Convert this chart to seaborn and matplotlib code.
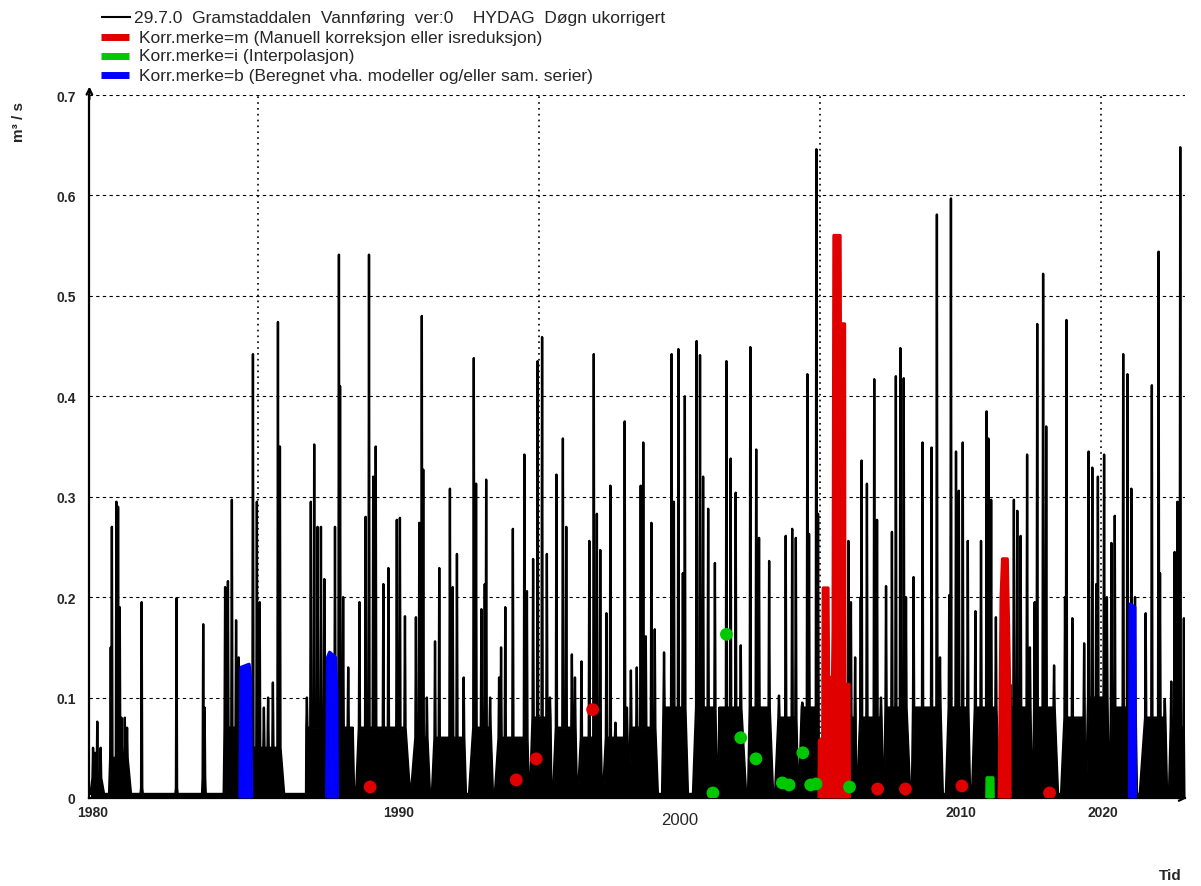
import numpy as np
import pandas as pd
import matplotlib
matplotlib.use('Agg')
import matplotlib.pyplot as plt
import seaborn as sns
from matplotlib.lines import Line2D

# Vannføring, døgnverdier lest av figuren (tid i desimalår, m3/s)
WINTER_Q = 0.004
NEEDLE = 0.02

SEASON_START = [1979.04, 1979.70, 1980.82, 1982.06, 1983.01, 1983.78, 1984.77, 1986.71, 1987.72,
                1988.49, 1990.44, 1991.19, 1992.51, 1993.43, 1994.68, 1995.50, 1996.39, 1997.28,
                1998.20, 1999.38, 2000.48, 2001.37, 2002.44, 2003.40, 2004.25, 2005.98, 2006.32,
                2007.28, 2008.27, 2009.48, 2010.41, 2011.38, 2012.58, 2013.58, 2014.47, 2015.32,
                2016.38, 2017.42]
SEASON_END = [1979.52, 1980.48, 1980.90, 1982.14, 1983.14, 1984.36, 1985.93, 1987.44, 1988.42,
              1990.41, 1991.12, 1992.40, 1993.36, 1994.64, 1995.44, 1996.35, 1997.24, 1998.17,
              1999.23, 2000.30, 2001.33, 2002.37, 2003.33, 2004.22, 2004.96, 2006.28, 2007.24,
              2008.21, 2009.37, 2010.34, 2011.37, 2012.54, 2013.47, 2014.43, 2015.28, 2016.28,
              2017.35, 2017.99]
SEASON_BODY = [0.02, 0.04, 0.01, 0.01, 0.02, 0.07, 0.05, 0.07, 0.07,
               0.07, 0.06, 0.06, 0.07, 0.06, 0.08, 0.07, 0.06, 0.06,
               0.07, 0.09, 0.09, 0.09, 0.09, 0.08, 0.09, 0.08, 0.08,
               0.09, 0.09, 0.09, 0.09, 0.09, 0.09, 0.08, 0.10, 0.09,
               0.08, 0.07]

PEAK_T = [
    1979.13, 1979.20, 1979.28, 1979.40,
    1979.76, 1979.80, 1979.96, 1980.02, 1980.08, 1980.14, 1980.26, 1980.34,
    1980.86,
    1982.10,
    1983.05, 1983.10,
    1983.83, 1983.93, 1984.07, 1984.22, 1984.31,
    1984.82, 1984.96, 1985.06, 1985.21, 1985.36, 1985.53, 1985.71, 1985.78,
    1986.74, 1986.88, 1987.00, 1987.12, 1987.24, 1987.36,
    1987.74, 1987.88, 1987.92, 1988.03, 1988.21, 1988.35,
    1988.61, 1988.83, 1988.95, 1989.10, 1989.19, 1989.46, 1989.64, 1989.94, 1990.05, 1990.23,
    1990.62, 1990.74, 1990.83, 1990.88, 1991.01,
    1991.30, 1991.45, 1991.83, 1991.93, 1992.08, 1992.32,
    1992.68, 1992.76, 1992.95, 1993.07, 1993.12, 1993.26,
    1993.58, 1993.65, 1993.80, 1994.07, 1994.48, 1994.57,
    1994.79, 1994.95, 1995.11, 1995.28, 1995.39,
    1995.62, 1995.85, 1995.97, 1996.17, 1996.28,
    1996.51, 1996.79, 1996.95, 1997.06, 1997.18,
    1997.40, 1997.54, 1997.72, 1998.05, 1998.13,
    1998.27, 1998.48, 1998.62, 1998.71, 1998.80, 1999.00, 1999.12,
    1999.45, 1999.72, 1999.80, 1999.96, 2000.12, 2000.19,
    2000.61, 2000.73, 2000.84, 2001.02, 2001.26,
    2001.44, 2001.67, 2001.82, 2002.00, 2002.18,
    2002.52, 2002.73, 2002.83, 2003.19,
    2003.54, 2003.78, 2004.01, 2004.14,
    2004.37, 2004.55, 2004.61, 2004.87, 2004.93,
    2006.01, 2006.10, 2006.25,
    2006.45, 2006.48, 2006.67, 2006.93, 2007.03, 2007.17,
    2007.35, 2007.56, 2007.70, 2007.86, 2007.98, 2008.06,
    2008.33, 2008.65, 2008.97, 2009.16, 2009.27,
    2009.60, 2009.66, 2009.84, 2009.94, 2010.08, 2010.26,
    2010.53, 2010.73, 2010.93, 2010.99, 2011.09, 2011.26,
    2011.77, 2011.90, 2012.02, 2012.14, 2012.37, 2012.47,
    2012.64, 2012.73, 2012.94, 2013.05, 2013.33,
    2013.72, 2013.77, 2013.98, 2014.40,
    2014.56, 2014.69, 2014.83, 2014.89, 2015.11, 2015.21,
    2015.37, 2015.49, 2015.79, 2015.94, 2016.08, 2016.21,
    2016.59, 2016.81, 2017.05, 2017.10, 2017.27,
    2017.50, 2017.62, 2017.72, 2017.82, 2017.95,
]
PEAK_Q = [
    0.05, 0.045, 0.076, 0.05,
    0.15, 0.27, 0.295, 0.29, 0.19, 0.08, 0.08, 0.07,
    0.195,
    0.199,
    0.173, 0.09,
    0.21, 0.216, 0.297, 0.177, 0.14,
    0.442, 0.295, 0.195, 0.09, 0.10, 0.115, 0.474, 0.35,
    0.10, 0.295, 0.352, 0.27, 0.27, 0.218,
    0.27, 0.541, 0.41, 0.20, 0.13, 0.05,
    0.195, 0.28, 0.541, 0.32, 0.35, 0.213, 0.229, 0.277, 0.279, 0.181,
    0.18, 0.274, 0.48, 0.327, 0.10,
    0.156, 0.229, 0.308, 0.21, 0.243, 0.12,
    0.438, 0.313, 0.188, 0.213, 0.317, 0.10,
    0.12, 0.15, 0.19, 0.268, 0.342, 0.206,
    0.238, 0.435, 0.459, 0.243, 0.10,
    0.322, 0.358, 0.27, 0.143, 0.12,
    0.136, 0.256, 0.442, 0.283, 0.247,
    0.184, 0.311, 0.075, 0.375, 0.09,
    0.127, 0.13, 0.311, 0.354, 0.161, 0.274, 0.168,
    0.145, 0.442, 0.295, 0.447, 0.224, 0.40,
    0.455, 0.441, 0.32, 0.288, 0.234,
    0.066, 0.435, 0.338, 0.304, 0.152,
    0.449, 0.347, 0.259, 0.236,
    0.102, 0.261, 0.268, 0.259,
    0.095, 0.422, 0.263, 0.646, 0.283,
    0.256, 0.195, 0.14,
    0.20, 0.336, 0.313, 0.417, 0.277, 0.10,
    0.211, 0.265, 0.42, 0.448, 0.418, 0.20,
    0.22, 0.354, 0.349, 0.581, 0.14,
    0.202, 0.597, 0.345, 0.306, 0.354, 0.256,
    0.186, 0.256, 0.385, 0.358, 0.297, 0.18,
    0.113, 0.297, 0.286, 0.261, 0.342, 0.15,
    0.195, 0.472, 0.522, 0.37, 0.132,
    0.20, 0.476, 0.179, 0.154,
    0.345, 0.329, 0.213, 0.32, 0.342, 0.20,
    0.254, 0.281, 0.442, 0.422, 0.308, 0.20,
    0.184, 0.411, 0.544, 0.224, 0.098,
    0.116, 0.245, 0.295, 0.648, 0.179,
]

# korrigerte perioder
RED_T1 = [2004.97, 2004.98, 2005.10, 2005.12, 2005.28, 2005.30, 2005.45, 2005.47,
          2005.50, 2005.71, 2005.72, 2005.87, 2005.88, 2006.03, 2006.04]
RED_Q1 = [0.0, 0.057, 0.06, 0.209, 0.209, 0.12, 0.12, 0.166,
          0.56, 0.56, 0.472, 0.472, 0.113, 0.113, 0.0]
RED_T2 = [2011.38, 2011.40, 2011.45, 2011.50, 2011.66, 2011.72, 2011.75, 2011.76]
RED_Q2 = [0.0, 0.05, 0.20, 0.238, 0.238, 0.15, 0.10, 0.0]
BLUE_T1 = [1984.36, 1984.40, 1984.68, 1984.73, 1984.77]
BLUE_Q1 = [0.0, 0.13, 0.133, 0.12, 0.0]
BLUE_T2 = [1987.45, 1987.48, 1987.55, 1987.75, 1987.80, 1987.82]
BLUE_Q2 = [0.0, 0.14, 0.145, 0.14, 0.10, 0.0]
BLUE_T3 = [2016.02, 2016.04, 2016.20, 2016.22]
BLUE_Q3 = [0.0, 0.193, 0.19, 0.0]
GREEN_T1 = [2010.94, 2010.95, 2011.15, 2011.16]
GREEN_Q1 = [0.0, 0.02, 0.02, 0.0]

RED_DOT_T = [1988.99, 1994.19, 1994.90, 1996.91, 2007.05, 2008.04, 2010.05, 2013.17]
RED_DOT_Q = [0.011, 0.018, 0.039, 0.088, 0.009, 0.009, 0.012, 0.005]
GREEN_DOT_T = [2001.19, 2001.67, 2002.18, 2002.72, 2003.66, 2003.90, 2004.39, 2004.67, 2004.86, 2006.05]
GREEN_DOT_Q = [0.005, 0.163, 0.06, 0.039, 0.015, 0.013, 0.045, 0.013, 0.014, 0.011]

Y_TICKS = [0.0, 0.1, 0.2, 0.3, 0.4, 0.5, 0.6, 0.7]
Y_TICK_LABELS = ['0', '0.1', '0.2', '0.3', '0.4', '0.5', '0.6', '0.7']
X_MAJOR = [1985, 1995, 2005, 2015]
X_LABEL_POS = [1979.13, 1990.0, 2000.0, 2010.0, 2015.05]
X_LABEL_TXT = ['1980', '1990', '2000', '2010', '2020']

LEGEND_TXT = [
    '29.7.0  Gramstaddalen  Vannføring  ver:0    HYDAG  Døgn ukorrigert',
    'Korr.merke=m (Manuell korreksjon eller isreduksjon)',
    'Korr.merke=i (Interpolasjon)',
    'Korr.merke=b (Beregnet vha. modeller og/eller sam. serier)',
]

RED = '#e00000'
GREEN = '#00c800'
BLUE = '#0000ff'
W, H = 1201, 887


def build_series():
    assert len(PEAK_T) == len(PEAK_Q)
    peaks = sorted(zip(PEAK_T, PEAK_Q))
    t, q = [], []
    for start, end, body in zip(SEASON_START, SEASON_END, SEASON_BODY):
        t.append(start)
        q.append(WINTER_Q)
        for pt, pq in peaks:
            if start < pt < end:
                t += [pt - NEEDLE, pt, pt + NEEDLE]
                q += [body, pq, body]
        t.append(end)
        q.append(WINTER_Q)
    return pd.DataFrame({'Tid': t, 'Q': q})


def fx(px):
    return px / W


def fy(py):
    return 1 - py / H


def draw_patch(ax, ts, qs, color):
    ax.fill_between(ts, 0, qs, color=color, lw=0, zorder=3)
    ax.plot(ts, qs, color=color, lw=2.5, solid_capstyle='round', zorder=3)


def main():
    sns.set_style('white')
    plt.rcParams['font.family'] = ['Liberation Sans', 'DejaVu Sans']

    df = build_series()

    fig = plt.figure(figsize=(W / 100, H / 100), dpi=100)
    ax = fig.add_axes([fx(89.4), 1 - 799 / H, fx(1185.3 - 89.4), 703 / H])

    for yv in Y_TICKS[1:]:
        ax.axhline(yv, color='black', lw=0.8, dashes=(3, 3), zorder=1)
    for xv in X_MAJOR:
        ax.axvline(xv, color='black', lw=1.2, dashes=(1, 2.5), zorder=1)

    ax.fill_between(df['Tid'], 0, df['Q'], color='black', lw=0, zorder=2)
    sns.lineplot(data=df, x='Tid', y='Q', ax=ax, color='black', lw=1.7,
                 estimator=None, sort=False, zorder=2)

    draw_patch(ax, RED_T1, RED_Q1, RED)
    draw_patch(ax, RED_T2, RED_Q2, RED)
    draw_patch(ax, BLUE_T1, BLUE_Q1, BLUE)
    draw_patch(ax, BLUE_T2, BLUE_Q2, BLUE)
    draw_patch(ax, BLUE_T3, BLUE_Q3, BLUE)
    draw_patch(ax, GREEN_T1, GREEN_Q1, GREEN)

    sns.scatterplot(x=RED_DOT_T, y=RED_DOT_Q, ax=ax, color=RED, s=85,
                    edgecolor='none', zorder=4)
    sns.scatterplot(x=GREEN_DOT_T, y=GREEN_DOT_Q, ax=ax, color=GREEN, s=85,
                    edgecolor='none', zorder=4)

    ax.set_xlim(1979.0, 2018.0)
    ax.set_ylim(0, 0.7)
    ax.set_xlabel('')
    ax.set_ylabel('')
    for side in ['top', 'right']:
        ax.spines[side].set_visible(False)
    for side in ['left', 'bottom']:
        ax.spines[side].set_color('black')
        ax.spines[side].set_linewidth(1.6)

    ax.set_yticks(Y_TICKS)
    ax.set_yticklabels(Y_TICK_LABELS, fontweight='bold', fontsize=10)
    ax.tick_params(axis='y', direction='out', length=5, width=2, pad=5, color='black')

    ax.set_xticks(X_MAJOR)
    ax.set_xticklabels([''] * len(X_MAJOR))
    ax.set_xticks(np.arange(1980, 2018), minor=True)
    ax.tick_params(axis='x', which='major', direction='out', length=10, width=2, color='black')
    ax.tick_params(axis='x', which='minor', direction='out', length=4, width=1, color='black')

    for pos, txt in zip(X_LABEL_POS, X_LABEL_TXT):
        if txt == '2000':
            ax.text(pos, -0.03, txt, transform=ax.get_xaxis_transform(),
                    ha='center', va='center', fontsize=12)
        else:
            ax.text(pos, -0.02, txt, transform=ax.get_xaxis_transform(),
                    ha='center', va='center', fontsize=10, fontweight='bold')

    # piler på aksene
    ax.annotate('', xy=(0, 1.016), xytext=(0, 0.99), xycoords='axes fraction',
                arrowprops=dict(arrowstyle='->', lw=1.6, color='black'))
    ax.annotate('', xy=(1.004, 0), xytext=(0.99, 0), xycoords='axes fraction',
                arrowprops=dict(arrowstyle='->', lw=1.6, color='black'))

    fig.text(fx(19), fy(122), 'm³ / s', rotation=90, ha='center', va='center',
             fontsize=11, fontweight='bold')
    fig.text(fx(1170), fy(876), 'Tid', ha='center', va='center',
             fontsize=11, fontweight='bold')

    # tegnforklaring
    rows_y = [18, 38, 57, 76]
    fig.add_artist(Line2D([fx(101), fx(131)], [fy(rows_y[0])] * 2, color='black',
                          lw=1.5, solid_capstyle='butt'))
    fig.text(fx(134), fy(rows_y[0]), LEGEND_TXT[0], ha='left', va='center', fontsize=12.5)
    for yy, col, txt in zip(rows_y[1:], [RED, GREEN, BLUE], LEGEND_TXT[1:]):
        fig.add_artist(Line2D([fx(101), fx(129)], [fy(yy)] * 2, color=col, lw=5,
                              solid_capstyle='butt'))
        fig.text(fx(139), fy(yy), txt, ha='left', va='center', fontsize=12.5)

    fig.savefig('out.png', dpi=100)


if __name__ == '__main__':
    main()
